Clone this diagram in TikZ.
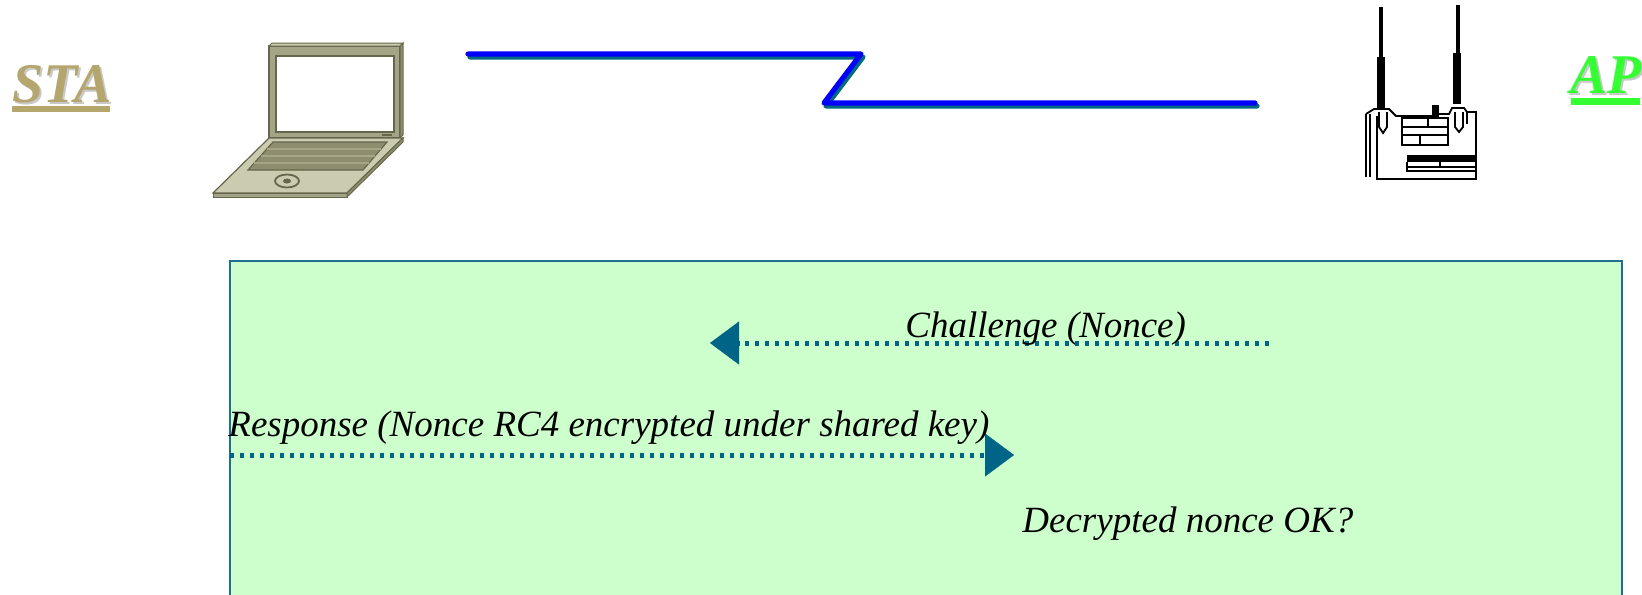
\documentclass[tikz,border=0pt]{standalone}
\usepackage{fontspec}
\setmainfont{Liberation Serif}
\usetikzlibrary{arrows.meta}

\definecolor{panelfill}{HTML}{CCFFCC}
\definecolor{paneledge}{HTML}{1E6E8E}
\definecolor{msgblue}{HTML}{006487}
\definecolor{stacol}{HTML}{B5A66E}
\definecolor{apcol}{HTML}{33FF33}
\definecolor{titleshade}{HTML}{C8C8C8}
\definecolor{linkblue}{HTML}{0000FF}
\definecolor{linkshade}{HTML}{006A80}
\definecolor{lapbody}{HTML}{CBCBB0}
\definecolor{lapframe}{HTML}{A4A486}
\definecolor{lapkeys}{HTML}{8E8E6E}
\definecolor{lapedge}{HTML}{66664C}

\tikzset{
  title/.style={inner sep=0pt, anchor=base west,
    font=\fontsize{28}{32}\selectfont\bfseries\itshape},
  msgtext/.style={inner sep=0pt, anchor=base west,
    font=\fontsize{18.5}{22}\selectfont\itshape},
  msg/.style={draw=msgblue, line width=2.5pt, dash pattern=on 2pt off 3pt,
    -{Triangle[length=14.5pt,width=21.5pt,line width=0.1pt]}},
  link/.style={line width=2.6pt, line cap=round, line join=round},
  panel/.style={draw=paneledge, fill=panelfill, line width=1pt,
    rectangle, inner sep=0pt, anchor=north west},
  apline/.style={draw=black, line width=0.9pt},
}

\begin{document}
\begin{tikzpicture}[x=0.5pt,y=-0.5pt]
\useasboundingbox (0,0) rectangle (1642,594);
\clip (0,0) rectangle (1642,594);

% ---- station and access point labels ----
\node[title, text=titleshade] (sta-shadow) at (14,104) {STA};
\node[title, text=stacol] (sta) at (12,102) {STA};
\fill[stacol] (12,106) rectangle (110,112);

\node[title, text=titleshade] (ap-shadow) at (1572,95) {AP};
\node[title, text=apcol] (ap) at (1570,93) {AP};
\fill[apcol] (1571,98) rectangle (1640,105);

% ---- laptop ----
% lid
\filldraw[fill=lapframe, draw=lapedge, line width=0.6pt] (269,46) rectangle (400,138);
\filldraw[fill=lapbody, draw=lapedge, line width=0.5pt] (269,46) -- (272,43) -- (403,43) -- (400,46) -- cycle;
\filldraw[fill=lapkeys, draw=lapedge, line width=0.5pt] (400,46) -- (403,43) -- (403,135) -- (400,138) -- cycle;
\filldraw[fill=white, draw=lapedge, line width=0.6pt] (276,56) rectangle (394,132);
\fill[lapedge] (382,133.5) rectangle (392,135.5);
% deck
\filldraw[fill=lapbody, draw=lapedge, line width=0.6pt] (269,138) -- (403,138) -- (347,193) -- (213,193) -- cycle;
\filldraw[fill=lapframe, draw=lapedge, line width=0.5pt] (213,193) -- (347,193) -- (347,197) -- (213,197) -- cycle;
\filldraw[fill=lapkeys, draw=lapedge, line width=0.5pt] (403,138) -- (403,142) -- (347,197) -- (347,193) -- cycle;
% keyboard
\filldraw[fill=lapkeys, draw=lapedge, line width=0.6pt] (273,142) -- (387,142) -- (363,170) -- (248,170) -- cycle;
\draw[lapframe, line width=0.8pt] (266.75,149) -- (381,149)
  (260.5,156) -- (375,156) (254.25,163) -- (369,163);
% trackpad
\draw[lapedge, line width=0.9pt] (287,181) ellipse [x radius=12, y radius=6.5];
\fill[lapedge] (287,181) ellipse [x radius=4, y radius=2.5];

% ---- access point ----
\fill (1379,7) rectangle (1383,57);
\fill (1377,57) rectangle (1385,108);
\fill (1456,5) rectangle (1460,53);
\fill (1453,53) rectangle (1461,104);
% housing
\draw[apline] (1366,114) -- (1366,177);
\draw[apline] (1370,114) -- (1370,177);
\draw[apline] (1377,116) -- (1377,179) -- (1476,179) -- (1476,112) -- (1467,112);
\draw[apline] (1366,114) -- (1374,109) -- (1389,109) -- (1396,116) -- (1432,116);
\fill (1432,105) rectangle (1439,118);
\draw[apline] (1439,114) -- (1449,114) -- (1452,108) -- (1464,108) -- (1467,112);
% antenna collars
\draw[apline] (1379,112) -- (1379,127) -- (1383,133) -- (1387,127) -- (1387,112);
\draw[apline] (1455,112) -- (1455,127) -- (1459,132) -- (1463,127) -- (1463,112);
\draw[apline] (1467,112) -- (1467,124);
% front panel
\draw[apline] (1402,118) rectangle (1448,145);
\draw[apline] (1402,127) -- (1448,127) (1402,135) -- (1448,135);
\draw[apline] (1428,118) -- (1428,127) (1420,135) -- (1420,145);
\fill (1407,155) rectangle (1476,162);
\draw[apline] (1407,167) -- (1476,167) (1407,162) -- (1407,171) -- (1476,171) (1440,162) -- (1440,167);

% ---- radio link ----
\coordinate (l1) at (468,54);
\coordinate (l2) at (861,54);
\coordinate (l3) at (824,103);
\coordinate (l4) at (1255,103);
\begin{scope}[transform canvas={shift={(1pt,-1.5pt)}}]
  \draw[link, linkshade] (l1) -- (l2) -- (l3) -- (l4);
\end{scope}
\draw[link, linkblue] (l1) -- (l2) -- (l3) -- (l4);

% ---- message exchange panel ----
\node[panel, minimum width=696pt, minimum height=185pt] (exchange) at (229,260) {};

\coordinate (ch-from) at (1269,343);
\coordinate (ch-to) at (710,343);
\draw[msg] (ch-from) -- (ch-to);
\node[msgtext] (challenge) at (905,337) {Challenge (Nonce)};

\coordinate (rs-from) at (230,455);
\coordinate (rs-to) at (1014,455);
\draw[msg] (rs-from) -- (rs-to);
\node[msgtext] (response) at (228,436) {Response (Nonce RC4 encrypted under shared key)};

\node[msgtext] (check) at (1022,532) {Decrypted nonce OK?};
\end{tikzpicture}
\end{document}
